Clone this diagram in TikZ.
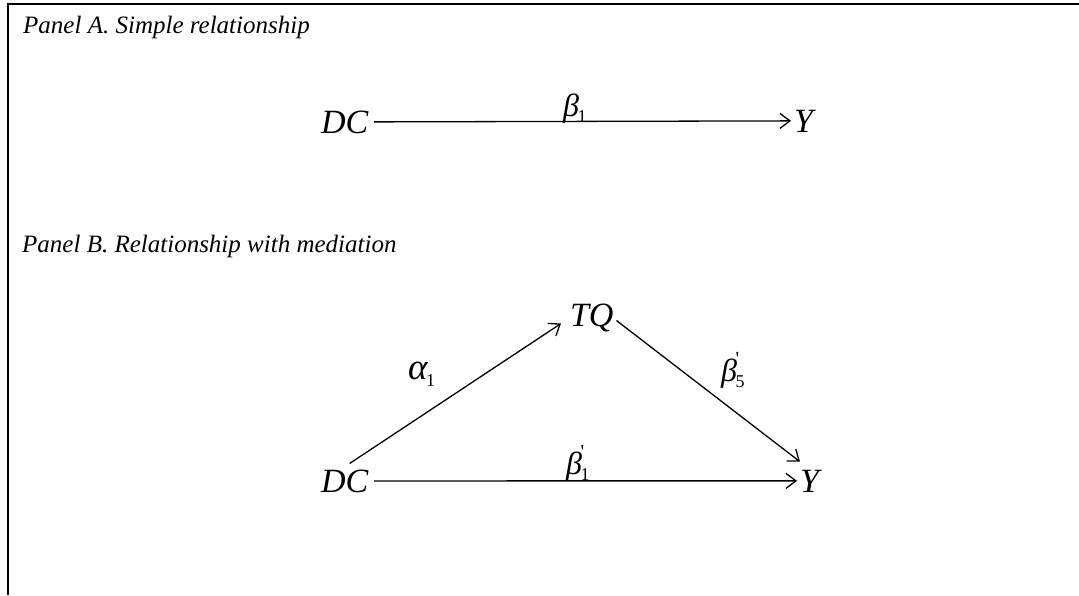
\documentclass[tikz,border=0pt]{standalone}
\usepackage{fontspec}
\setmainfont{Liberation Serif}
\usetikzlibrary{arrows.meta}
\newcommand{\gsub}[2]{{\itshape #1}\kern-1.5pt\raisebox{-0.2em}{\fontsize{18}{18}\selectfont #2}}
\newcommand{\gsubp}[2]{{\itshape #1}\kern-1.5pt\makebox[0pt][l]{\raisebox{0.5em}{\fontsize{20}{20}\selectfont\textquotesingle}}\raisebox{-0.2em}{\fontsize{18}{18}\selectfont #2}}
\tikzset{
  panel/.style={anchor=base west, inner sep=0pt, font=\fontsize{25}{29}\selectfont\itshape},
  var/.style={anchor=base west, inner sep=3pt, outer sep=0pt, font=\fontsize{34}{40}\selectfont\itshape},
  coef/.style={anchor=base west, inner sep=0pt, font=\fontsize{32}{38}\selectfont},
  link/.style={line width=1.3pt, -{Straight Barb[length=10pt,width=15pt,line width=1.3pt]}},
  frameline/.style={line width=2pt}
}
\begin{document}
\begin{tikzpicture}[x=1pt,y=-1pt]
\useasboundingbox (0,0) rectangle (1079,595);
% frame lines
\draw[frameline] (6.7,4.2) -- (1079,4.2);
\draw[frameline] (7.7,3.2) -- (7.7,595);
% panel titles
\node[panel] (titleA) at (23,33) {Panel A. Simple relationship};
\node[panel] (titleB) at (22,252) {Panel B. Relationship with mediation};
% Panel A
\node[var] (dcA) at (318,133) {DC};
\node[var] (yA) at (791,132) {Y};
\node[coef] (bA) at (563,116) {\gsub{β}{1}};
\draw[link, shorten <=3pt] (dcA.east) -- (yA.west);
% Panel B
\node[var] (dcB) at (318,492) {DC};
\node[var] (yB) at (797,492) {Y};
\node[var] (tq) at (567,326) {TQ};
\node[coef, font=\fontsize{37}{42}\selectfont] (aB) at (408,379) {\gsub{α}{1}};
\node[coef] (b5) at (721,381) {\gsubp{β}{5}};
\node[coef] (b1B) at (566,474) {\gsubp{β}{1}};
\draw[link, shorten <=3pt] (dcB.east) -- (yB.west);
\draw[link] ([shift={(5,-3)}]dcB.north) -- ([shift={(-6,6)}]tq.west);
\draw[link] ([shift={(0,3)}]tq.east) -- ([shift={(3,-5)}]yB.north west);
\end{tikzpicture}
\end{document}
